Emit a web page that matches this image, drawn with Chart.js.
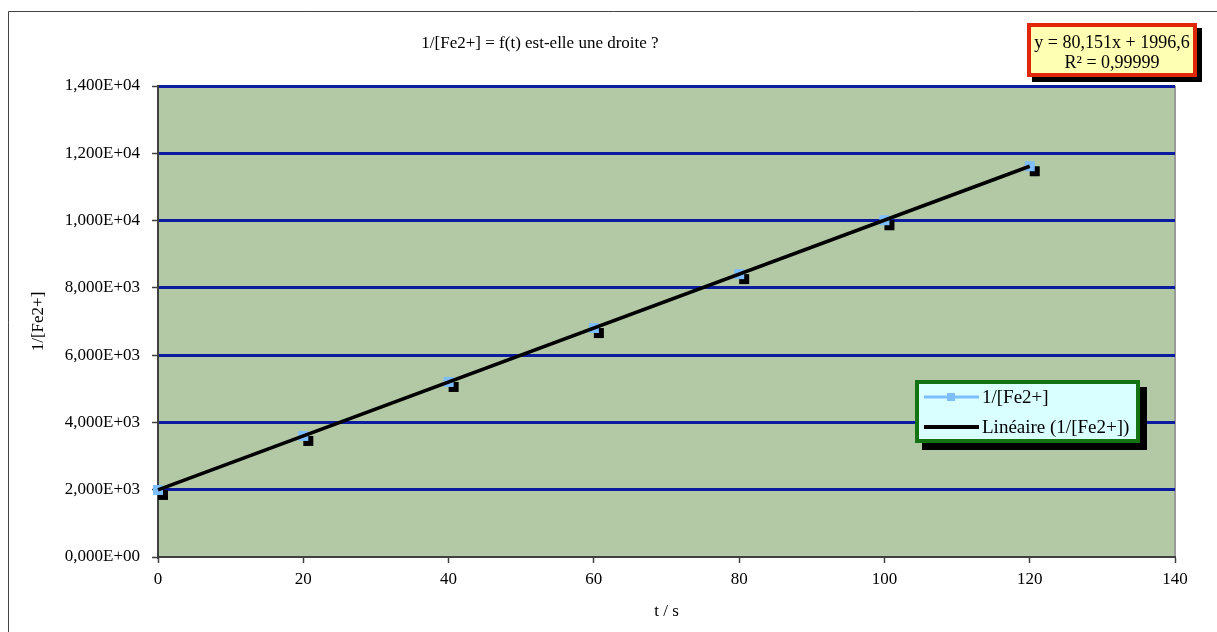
<!DOCTYPE html>
<html><head><meta charset="utf-8">
<script src="https://cdn.jsdelivr.net/npm/chart.js@4.4.0/dist/chart.umd.min.js"></script>
<style>html,body{margin:0;padding:0;background:#fff;overflow:hidden}</style>
</head><body>
<canvas id="c" width="1217" height="632" style="width:1217px;height:632px;display:block"></canvas>
<script>
// ---- data ----
const tValues = [0, 20, 40, 60, 80, 100, 120];
const invFe = [1995, 3600, 5205, 6805, 8410, 10010, 11615];
const trendT = [0, 120];
const trendY = [1997, 11615];
const yTickValues = [0, 2000, 4000, 6000, 8000, 10000, 12000, 14000];
const xTickValues = [0, 20, 40, 60, 80, 100, 120, 140];
const chartTitle = '1/[Fe2+] = f(t) est-elle une droite ?';
const equationLines = ['y = 80,151x + 1996,6', 'R\u00B2 = 0,99999'];
const seriesLabels = ['1/[Fe2+]', 'Lin\u00E9aire (1/[Fe2+])'];
const xTitle = 't / s';
const yTitle = '1/[Fe2+]';

const FONT = '"Liberation Serif", "Times New Roman", serif';
const FS = 17;
const BLUE = '#7DBEFF';

function fmtExp(v) {
  const s = Number(v).toExponential(3);
  const parts = s.split('e');
  const sign = parts[1][0] === '-' ? '-' : '+';
  let ex = parts[1].replace(/[+-]/, '');
  if (ex.length < 2) ex = '0' + ex;
  return parts[0].replace('.', ',') + 'E' + sign + ex;
}

// marker with drop shadow
const mk = document.createElement('canvas');
mk.width = 30; mk.height = 30;
(function(){
  const g = mk.getContext('2d');
  g.fillStyle = '#000';
  g.fillRect(15, 15, 10, 10);
  g.fillStyle = BLUE;
  g.fillRect(10, 10, 10, 10);
})();

const decor = {
  id: 'decor',
  beforeDraw(chart) {
    const {ctx, chartArea: a} = chart;
    ctx.save();
    // outer frame
    ctx.strokeStyle = '#444';
    ctx.lineWidth = 1;
    ctx.beginPath();
    ctx.moveTo(8.5, 640); ctx.lineTo(8.5, 11.5); ctx.lineTo(1230, 11.5);
    ctx.stroke();
    // plot background
    ctx.fillStyle = '#B3C8A4';
    ctx.fillRect(a.left, a.top, a.right - a.left, a.bottom - a.top);
    // right border of plot
    ctx.strokeStyle = '#9A9A9A';
    ctx.lineWidth = 2;
    ctx.beginPath();
    ctx.moveTo(a.right, a.top); ctx.lineTo(a.right, a.bottom);
    ctx.stroke();
    // title
    ctx.fillStyle = '#000';
    ctx.font = FS + 'px ' + FONT;
    ctx.textAlign = 'center';
    ctx.textBaseline = 'middle';
    ctx.fillText(chartTitle, 540, 44);
    ctx.restore();
  },
  afterDraw(chart) {
    const {ctx} = chart;
    ctx.save();
    // equation box
    let x = 1027, y = 23, w = 170, h = 54, off = 5;
    ctx.fillStyle = '#000';
    ctx.fillRect(x + off, y + off, w, h);
    ctx.fillStyle = '#FFFFB3';
    ctx.fillRect(x, y, w, h);
    ctx.strokeStyle = '#E02808';
    ctx.lineWidth = 4;
    ctx.strokeRect(x + 2, y + 2, w - 4, h - 4);
    ctx.fillStyle = '#000';
    ctx.font = '18px ' + FONT;
    ctx.textAlign = 'center';
    ctx.textBaseline = 'middle';
    ctx.fillText(equationLines[0], x + w / 2, 43);
    ctx.fillText(equationLines[1], x + w / 2, 63);

    // legend box
    x = 915; y = 380; w = 225; h = 63; off = 7;
    ctx.fillStyle = '#000';
    ctx.fillRect(x + off, y + off, w, h);
    ctx.fillStyle = '#D9FFFF';
    ctx.fillRect(x, y, w, h);
    ctx.strokeStyle = '#137313';
    ctx.lineWidth = 4;
    ctx.strokeRect(x + 2, y + 2, w - 4, h - 4);
    // item 1
    ctx.strokeStyle = BLUE;
    ctx.lineWidth = 3;
    ctx.beginPath(); ctx.moveTo(924, 397); ctx.lineTo(979, 397); ctx.stroke();
    ctx.fillStyle = BLUE;
    ctx.fillRect(947, 393, 8, 8);
    // item 2
    ctx.strokeStyle = '#000';
    ctx.lineWidth = 4;
    ctx.beginPath(); ctx.moveTo(924, 427); ctx.lineTo(979, 427); ctx.stroke();
    ctx.fillStyle = '#000';
    ctx.font = '19px ' + FONT;
    ctx.textAlign = 'left';
    ctx.fillText(chart.data.datasets[0].label, 982, 398);
    ctx.fillText(chart.data.datasets[1].label, 982, 428);
    ctx.restore();
  }
};

new Chart(document.getElementById('c'), {
  type: 'scatter',
  data: {
    datasets: [
      {
        label: seriesLabels[0],
        data: tValues.map((t, i) => ({x: t, y: invFe[i]})),
        showLine: true,
        borderColor: BLUE,
        borderWidth: 2.5,
        pointStyle: mk,
        pointRadius: 6,
        clip: false,
        order: 1
      },
      {
        label: seriesLabels[1],
        data: trendT.map((t, i) => ({x: t, y: trendY[i]})),
        showLine: true,
        borderColor: '#000',
        borderWidth: 3.5,
        pointRadius: 0,
        clip: false,
        order: 0
      }
    ]
  },
  options: {
    responsive: false,
    animation: false,
    events: [],
    layout: {padding: {left: 0, right: 42, top: 86, bottom: 0}},
    plugins: {legend: {display: false}, tooltip: {enabled: false}, title: {display: false}},
    scales: {
      x: {
        type: 'linear', min: 0, max: 140,
        afterBuildTicks: s => { s.ticks = xTickValues.map(v => ({value: v})); },
        afterFit: s => { s.height = 75; },
        grid: {drawOnChartArea: false, drawTicks: true, tickLength: 6, tickColor: '#404040', tickWidth: 1.5},
        border: {color: '#404040', width: 2},
        ticks: {color: '#000', font: {family: FONT, size: FS}, padding: 6, maxRotation: 0},
        title: {display: true, text: xTitle, color: '#000', font: {family: FONT, size: FS}, padding: {top: 0, bottom: 10}}
      },
      y: {
        type: 'linear', min: 0, max: 14000,
        afterBuildTicks: s => { s.ticks = yTickValues.map(v => ({value: v})); },
        afterFit: s => { s.width = 158; },
        grid: {
          color: c => (c.tick && c.tick.value === 0) ? 'rgba(0,0,0,0)' : '#0B1C9E',
          lineWidth: 3,
          drawTicks: true, tickLength: 6, tickColor: '#404040', tickWidth: 1.5
        },
        border: {color: '#404040', width: 2},
        ticks: {color: '#000', font: {family: FONT, size: FS}, padding: 12, callback: v => fmtExp(v)},
        title: {display: true, text: yTitle, color: '#000', font: {family: FONT, size: FS}, padding: {top: 28, bottom: 0}}
      }
    }
  },
  plugins: [decor]
});
</script>
</body></html>
